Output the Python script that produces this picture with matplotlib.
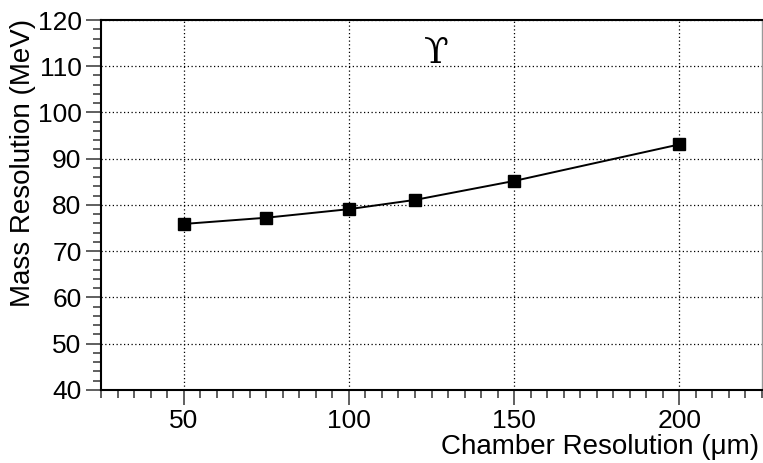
import matplotlib
matplotlib.use("Agg")
import matplotlib.pyplot as plt
from matplotlib.ticker import MultipleLocator

# chamber resolution (um) vs upsilon mass resolution (MeV)
chamber_res = [50, 75, 100, 120, 150, 200]
mass_res = [75.9, 77.25, 79.1, 81.1, 85.2, 93.1]

x_ticks = [50, 100, 150, 200]
y_ticks = [40, 50, 60, 70, 80, 90, 100, 110, 120]

plt.rcParams['font.family'] = ['Liberation Sans', 'DejaVu Sans']

fig = plt.figure(figsize=(7.63, 4.63), dpi=100)
ax = fig.add_axes([0.1324, 0.1577, 0.8663, 0.7991])

ax.plot(chamber_res, mass_res, color='black', lw=1.4, marker='s', ms=8,
        mfc='black', mec='black', zorder=3)

ax.set_xlim(25, 225)
ax.set_ylim(40, 120)
ax.set_xticks(x_ticks)
ax.set_yticks(y_ticks)
ax.xaxis.set_minor_locator(MultipleLocator(5))
ax.yaxis.set_minor_locator(MultipleLocator(2))

ax.grid(True, which='major', color='black', linestyle=(0, (1, 2)), lw=0.9)

ax.tick_params(which='major', direction='out', length=11, width=1.2,
               labelsize=19, pad=3, color='#444444')
ax.tick_params(which='minor', direction='out', length=5.5, width=1.2,
               color='#444444')

for s in ['left', 'bottom', 'top']:
    ax.spines[s].set_linewidth(1.5)
ax.spines['right'].set_color('#999999')
ax.spines['right'].set_linewidth(1.0)

ax.text(0.507, 0.91, '\u03d2', transform=ax.transAxes, ha='center',
        va='center', fontsize=26, family='DejaVu Serif')

fig.text(0.995, 0.019, 'Chamber Resolution (\u03bcm)', ha='right',
         va='baseline', fontsize=20)
fig.text(0.0297, 0.337, 'Mass Resolution (MeV)', ha='center', va='bottom',
         rotation=90, fontsize=20)

fig.savefig('out.png', dpi=100)
